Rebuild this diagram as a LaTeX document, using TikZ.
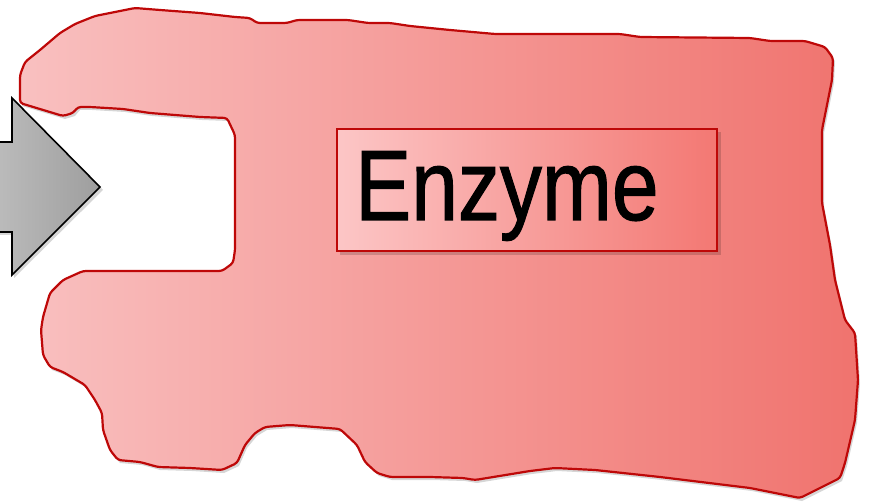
\documentclass[tikz,border=0pt]{standalone}
\usepackage{fontspec}
\setmainfont{Liberation Sans}
\usepackage{graphicx}
\definecolor{pinkL}{RGB}{249,192,192}
\definecolor{pinkM}{RGB}{246,172,170}
\definecolor{pinkR}{RGB}{240,115,110}
\definecolor{boxL}{RGB}{252,198,198}
\definecolor{boxM}{RGB}{247,170,168}
\definecolor{boxR}{RGB}{243,120,115}
\definecolor{edgeRed}{RGB}{190,8,8}
\definecolor{greyL}{RGB}{192,192,192}
\definecolor{greyR}{RGB}{158,158,158}
\tikzset{
  enzfill/.style={left color=pinkL, middle color=pinkM, right color=pinkR, draw=edgeRed, line width=2.2pt, line join=round},
  shadowstyle/.style={fill=black, opacity=0.16},
  arrowstyle/.style={left color=greyL, right color=greyR, draw=black, line width=1.6pt, line join=miter},
  labelbox/.style={left color=boxL, middle color=boxM, right color=boxR, draw=edgeRed, line width=2.2pt},
}
\def\enzpath{(20,103) -- (20,75) -- (25,62) -- (40,50) -- (60,33) -- (75,24) -- (95,16) -- (115,12) -- (135,8) -- (160,10) -- (200,13) -- (235,17) -- (250,18) -- (257,23) -- (287,23) -- (297,20) -- (348,20) -- (368,23) -- (390,23) -- (410,26) -- (450,30) -- (495,34) -- (620,34) -- (640,37) -- (750,38) -- (770,41) -- (805,41) -- (825,47) -- (833,58) -- (832,80) -- (828,100) -- (822,130) -- (822,203) -- (830,245) -- (835,280) -- (845,320) -- (855,333) -- (858,380) -- (855,420) -- (845,463) -- (840,478) -- (800,498) -- (750,488) -- (660,477) -- (595,470) -- (555,468) -- (530,471) -- (475,480) -- (463,478) -- (430,477) -- (390,477) -- (377,473) -- (365,462) -- (357,445) -- (340,429) -- (290,425) -- (265,427) -- (255,433) -- (245,445) -- (237,463) -- (222,470) -- (190,468) -- (158,467) -- (140,462) -- (118,460) -- (110,450) -- (103,430) -- (102,413) -- (95,400) -- (85,385) -- (63,372) -- (50,367) -- (43,355) -- (41,330) -- (43,317) -- (50,293) -- (63,280) -- (83,271) -- (222,271) -- (233,263) -- (235,250) -- (235,135) -- (227,118) -- (200,117) -- (150,113) -- (123,109) -- (90,107) -- (78,107) -- (73,113) -- (63,116) -- cycle}
\begin{document}
\begin{tikzpicture}[x=1pt,y=-1pt]
\useasboundingbox (0,0) rectangle (869,502);
\clip (0,0) rectangle (869,502);
% shadow of enzyme body
\begin{scope}[shift={(2,3)}]
\fill[shadowstyle] \enzpath;
\end{scope}
% enzyme body
\path[enzfill, rounded corners=3pt] \enzpath;
% substrate arrow
\fill[shadowstyle] (-20,145) -- (14,145) -- (14,101) -- (103,190) -- (14,278) -- (14,235) -- (-20,235) -- cycle;
\path[arrowstyle] (-20,142) -- (12,142) -- (12,98) -- (100,187) -- (12,275) -- (12,232) -- (-20,232) -- cycle;
% label box
\fill[shadowstyle] (340,132) rectangle (721,255);
\path[labelbox] (337,129) rectangle (717,251);
\node[anchor=base west, inner sep=0pt, font=\fontsize{100}{100}\selectfont\addfontfeatures{FakeBold=1.2}] (enzyme) at (355,220) {\scalebox{0.84}[1]{Enzyme}};
\end{tikzpicture}
\end{document}
